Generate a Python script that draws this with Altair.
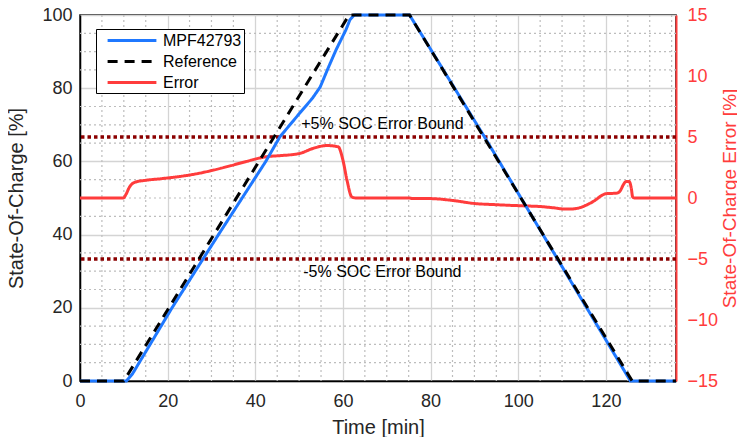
import altair as alt
import pandas as pd

FONT = "Liberation Sans"
BLUE = "#1f78ff"
RED = "#ff3c3c"
DARKRED = "#8b0000"

# --- data ---
ref_t = [0, 10, 61.4, 75.2, 126, 136]
ref_soc = [0, 0, 100, 100, 0, 0]

mpf_t = [0, 10.6, 12, 21, 31.6, 42.4, 45.6, 50, 53, 54.8, 56.8, 58.4, 60.7, 61.6, 62.6, 75.2, 92.3, 125.6, 136]
mpf_soc = [0, 0, 2, 20, 40, 60, 66.7, 73, 77.2, 80.3, 86, 90.4, 96, 98.7, 100, 100, 66.7, 0, 0]

err_t = [0, 9.9, 10.5, 11.3, 12.6, 15, 19, 26.8, 30, 34.4, 38, 42.8, 45.6, 50.2, 53.2, 56.4, 58.9,
         60.0, 60.9, 62.0, 63, 75, 76, 80, 85, 90, 95, 101.5, 105, 108, 110.5, 112.2, 114, 116,
         117.5, 119, 120, 122.5, 123.3, 124, 124.6, 125.3, 125.8, 126.1, 126.5, 136]
err_val = [0, 0, 0.3, 0.9, 1.3, 1.45, 1.6, 2.0, 2.25, 2.65, 3.0, 3.4, 3.47, 3.66, 4.07, 4.3, 4.2,
           3.1, 1.5, 0.1, 0, 0, -0.05, -0.05, -0.2, -0.45, -0.55, -0.65, -0.7, -0.8, -0.9, -0.9, -0.8, -0.5,
           -0.2, 0.2, 0.35, 0.4, 0.6, 1.1, 1.35, 1.35, 0.8, 0.1, 0, 0]

bound_vals = [5, -5]
bound_labels = ["+5% SOC Error Bound", "-5% SOC Error Bound"]
bound_label_t = [69, 69]

series_names = ["MPF42793", "Reference", "Error"]
series_colors = [BLUE, "black", RED]
series_dash = [[1, 0], [10, 7], [1, 0]]

x_major = [0, 20, 40, 60, 80, 100, 120]
x_minor = [v for v in range(5, 136, 5) if v % 20 != 0]
y_major = [0, 20, 40, 60, 80, 100]
y_minor = [v for v in range(5, 100, 5) if v % 20 != 0]
err_ticks = [-15, -10, -5, 0, 5, 10, 15]

# --- tables ---
soc_df = pd.concat([
    pd.DataFrame({"t": mpf_t, "soc": mpf_soc, "series": "MPF42793", "order": 0}),
    pd.DataFrame({"t": ref_t, "soc": ref_soc, "series": "Reference", "order": 1}),
])
err_df = pd.DataFrame({"t": err_t, "err": err_val, "series": "Error"})
bound_df = pd.DataFrame({"b": bound_vals, "label": bound_labels, "t": bound_label_t})
xminor_df = pd.DataFrame({"v": x_minor})
yminor_df = pd.DataFrame({"v": y_minor})

x_scale = alt.Scale(domain=[0, 136], nice=False, zero=False)
x_axis = alt.Axis(values=x_major, grid=True, gridColor="#d4d4d4", gridWidth=1.3,
                  ticks=False, labelPadding=11, labelFontSize=18, labelColor="#262626",
                  labelFont=FONT, labelFlush=False, title="Time [min]", titleFont=FONT,
                  titleFontSize=20, titleFontWeight="normal", titleColor="#262626", titlePadding=7,
                  domainColor="black", domainWidth=1.5)
soc_scale = alt.Scale(domain=[0, 100], nice=False)
err_scale = alt.Scale(domain=[-15, 15], nice=False)

legend_def = dict(title=None, orient="none", legendX=16, legendY=14,
                  symbolType="M-3.05,0H3.05", symbolSize=256, symbolStrokeWidth=3,
                  labelFont=FONT, labelFontSize=16, labelColor="black",
                  strokeColor="black", fillColor="white", padding=2,
                  rowPadding=3, labelOffset=21.5, symbolOffset=24.5, labelLimit=200)
color = alt.Color("series:N", scale=alt.Scale(domain=series_names, range=series_colors),
                  legend=alt.Legend(**legend_def))
dash = alt.StrokeDash("series:N", scale=alt.Scale(domain=series_names, range=series_dash),
                      legend=alt.Legend(**legend_def))

# group 1: left axis and minor grids
minor_x = alt.Chart(xminor_df).mark_rule(color="#bdbdbd", strokeWidth=1.2, strokeDash=[2, 3]).encode(
    x=alt.X("v:Q", scale=x_scale, axis=x_axis))
minor_y = alt.Chart(yminor_df).mark_rule(color="#bdbdbd", strokeWidth=1.2, strokeDash=[2, 3]).encode(
    y=alt.Y("v:Q", scale=soc_scale,
            axis=alt.Axis(orient="left", values=y_major, grid=True, gridColor="#d4d4d4", gridWidth=1.3,
                          ticks=False, labelPadding=8, labelFontSize=18, labelColor="#262626",
                          labelFont=FONT, title="State-Of-Charge [%]", titleFont=FONT,
                          titleFontSize=20, titleFontWeight="normal", titleColor="#262626",
                          titlePadding=15, domainColor="black", domainWidth=1.5)))
g1 = alt.layer(minor_x, minor_y)

# group 2: error on right axis
bound_rules = alt.Chart(bound_df).mark_rule(color=DARKRED, strokeWidth=3.5, strokeDash=[3.5, 3]).encode(
    y=alt.Y("b:Q", scale=err_scale,
            axis=alt.Axis(orient="right", values=err_ticks, grid=False, ticks=False,
                          labelPadding=11, labelFontSize=18, labelColor=RED, labelFont=FONT,
                          title="State-Of-Charge Error [%]", titleFont=FONT, titleFontSize=19,
                          titleFontWeight="normal", titleColor=RED, titlePadding=3,
                          titleAngle=270, titleBaseline="top", domainColor=RED, domainWidth=2)))
top_text = alt.Chart(bound_df[bound_df.b > 0]).mark_text(
    font=FONT, fontSize=16, color="black", baseline="alphabetic", dy=-8).encode(
    x=alt.X("t:Q", scale=x_scale, axis=x_axis), y=alt.Y("b:Q", scale=err_scale), text="label:N")
bot_text = alt.Chart(bound_df[bound_df.b < 0]).mark_text(
    font=FONT, fontSize=16, color="black", baseline="top", dy=5).encode(
    x=alt.X("t:Q", scale=x_scale, axis=x_axis), y=alt.Y("b:Q", scale=err_scale), text="label:N")
err_line = alt.Chart(err_df).mark_line(strokeWidth=3, interpolate="monotone").encode(
    x=alt.X("t:Q", scale=x_scale, axis=x_axis),
    y=alt.Y("err:Q", scale=err_scale),
    color=color, strokeDash=dash)
g2 = alt.layer(bound_rules, top_text, bot_text, err_line)

# group 3: SOC lines (same 0-100 scale, no axis)
soc_lines = alt.Chart(soc_df).mark_line(strokeWidth=3).encode(
    x=alt.X("t:Q", scale=x_scale, axis=x_axis),
    y=alt.Y("soc:Q", scale=soc_scale, axis=None),
    color=color, strokeDash=dash, order="order:Q", detail="series:N")
g3 = alt.layer(soc_lines)

chart = alt.layer(g1, g2, g3).resolve_scale(y="independent").properties(
    width=596, height=366,
    autosize=alt.AutoSizeParams(type="none"),
    padding={"left": 72, "top": 7, "right": 61, "bottom": 56},
).configure_view(stroke="black", strokeWidth=1.5)

chart.save("out.html", embed_options={"renderer": "svg", "actions": False})
